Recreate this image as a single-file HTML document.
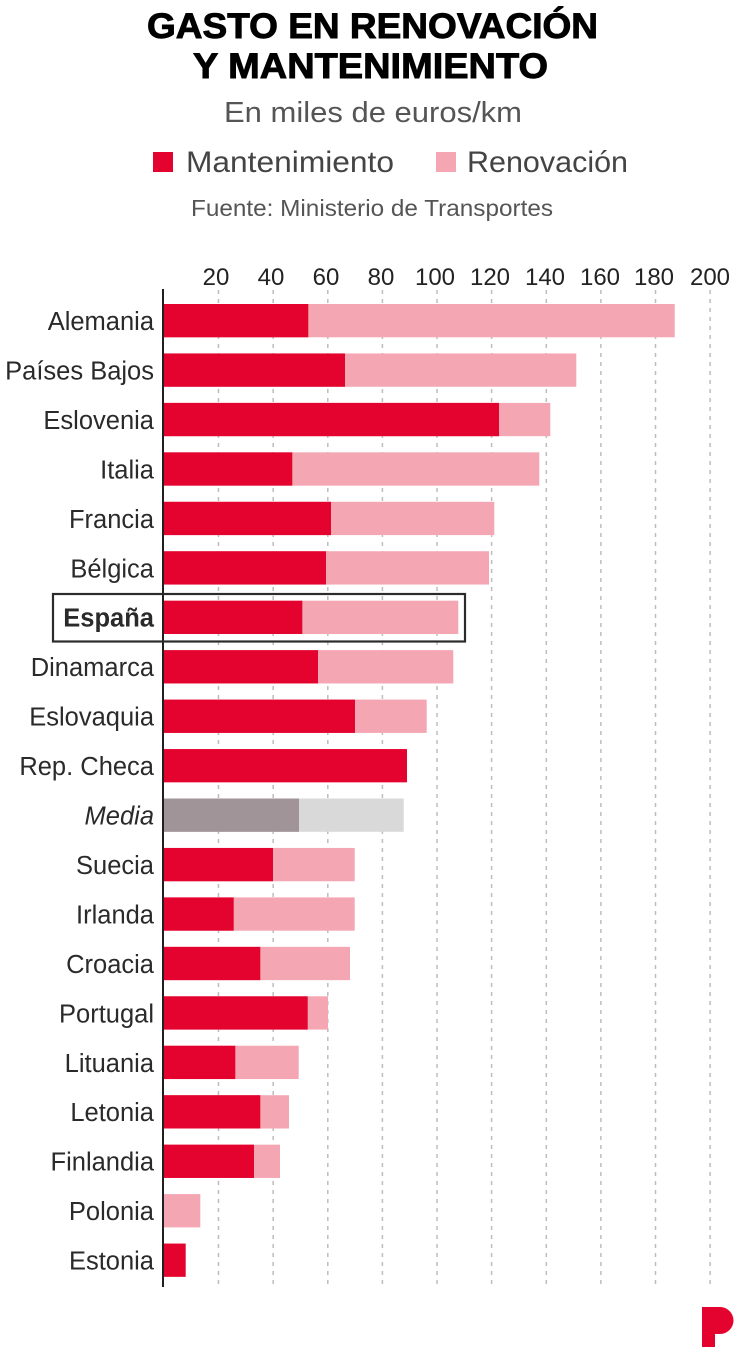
<!DOCTYPE html>
<html><head><meta charset="utf-8"><style>
html,body{margin:0;padding:0;background:#fff;}
svg{display:block;}
text{font-family:"Liberation Sans",sans-serif;}
</style></head><body>
<svg width="747" height="1353" viewBox="0 0 747 1353" xmlns="http://www.w3.org/2000/svg">
<rect width="747" height="1353" fill="#fff"/>
<!-- Title -->
<text x="147" y="38" font-size="35" font-weight="bold" fill="#000" stroke="#000" stroke-width="0.9" textLength="451" lengthAdjust="spacingAndGlyphs">GASTO EN RENOVACIÓN</text>
<text x="193" y="78" font-size="35" font-weight="bold" fill="#000" stroke="#000" stroke-width="0.9" textLength="355" lengthAdjust="spacingAndGlyphs">Y MANTENIMIENTO</text>
<text x="224" y="122" font-size="29" fill="#555" textLength="298" lengthAdjust="spacingAndGlyphs">En miles de euros/km</text>
<!-- Legend -->
<rect x="153" y="152" width="20" height="20" fill="#E4032E"/>
<text x="186" y="172" font-size="30" fill="#444" textLength="208" lengthAdjust="spacingAndGlyphs">Mantenimiento</text>
<rect x="436" y="152" width="20" height="20" fill="#F4A6B3"/>
<text x="467" y="172" font-size="30" fill="#444" textLength="161" lengthAdjust="spacingAndGlyphs">Renovación</text>
<text x="191" y="216" font-size="23" fill="#555" textLength="362" lengthAdjust="spacingAndGlyphs">Fuente: Ministerio de Transportes</text>

<!-- Tick labels -->
<g font-size="24" fill="#222" text-anchor="middle">
<text x="216" y="285">20</text>
<text x="271" y="285">40</text>
<text x="326" y="285">60</text>
<text x="381" y="285">80</text>
<text x="435" y="285">100</text>
<text x="490" y="285">120</text>
<text x="545" y="285">140</text>
<text x="600" y="285">160</text>
<text x="654" y="285">180</text>
<text x="710" y="285">200</text>
</g>

<!-- Grid lines -->
<g stroke="#bdbdbd" stroke-width="1.5" stroke-dasharray="4 5">
<line x1="218.5" y1="290" x2="218.5" y2="1287"/>
<line x1="273.2" y1="290" x2="273.2" y2="1287"/>
<line x1="327.8" y1="290" x2="327.8" y2="1287"/>
<line x1="382.4" y1="290" x2="382.4" y2="1287"/>
<line x1="437" y1="290" x2="437" y2="1287"/>
<line x1="491.6" y1="290" x2="491.6" y2="1287"/>
<line x1="546.3" y1="290" x2="546.3" y2="1287"/>
<line x1="600.9" y1="290" x2="600.9" y2="1287"/>
<line x1="655.5" y1="290" x2="655.5" y2="1287"/>
<line x1="710.1" y1="290" x2="710.1" y2="1287"/>
</g>

<!-- Bars -->
<g>
<!-- 0 Alemania -->
<rect x="164" y="304" width="510.7" height="33.3" fill="#F4A6B3"/>
<rect x="164" y="304" width="144.3" height="33.3" fill="#E4032E"/>
<!-- 1 Países Bajos -->
<rect x="164" y="353.45" width="412.3" height="33.3" fill="#F4A6B3"/>
<rect x="164" y="353.45" width="181" height="33.3" fill="#E4032E"/>
<!-- 2 Eslovenia -->
<rect x="164" y="402.9" width="386.3" height="33.3" fill="#F4A6B3"/>
<rect x="164" y="402.9" width="335" height="33.3" fill="#E4032E"/>
<!-- 3 Italia -->
<rect x="164" y="452.35" width="375.3" height="33.3" fill="#F4A6B3"/>
<rect x="164" y="452.35" width="128.3" height="33.3" fill="#E4032E"/>
<!-- 4 Francia -->
<rect x="164" y="501.8" width="330.3" height="33.3" fill="#F4A6B3"/>
<rect x="164" y="501.8" width="167" height="33.3" fill="#E4032E"/>
<!-- 5 Bélgica -->
<rect x="164" y="551.25" width="325" height="33.3" fill="#F4A6B3"/>
<rect x="164" y="551.25" width="162" height="33.3" fill="#E4032E"/>
<!-- 6 España -->
<rect x="164" y="600.7" width="294.3" height="33.3" fill="#F4A6B3"/>
<rect x="164" y="600.7" width="138.3" height="33.3" fill="#E4032E"/>
<!-- 7 Dinamarca -->
<rect x="164" y="650.15" width="289.3" height="33.3" fill="#F4A6B3"/>
<rect x="164" y="650.15" width="154" height="33.3" fill="#E4032E"/>
<!-- 8 Eslovaquia -->
<rect x="164" y="699.6" width="262.7" height="33.3" fill="#F4A6B3"/>
<rect x="164" y="699.6" width="191" height="33.3" fill="#E4032E"/>
<!-- 9 Rep. Checa -->
<rect x="164" y="749.05" width="243" height="33.3" fill="#E4032E"/>
<!-- 10 Media -->
<rect x="164" y="798.5" width="239.7" height="33.3" fill="#D9D9D9"/>
<rect x="164" y="798.5" width="135" height="33.3" fill="#A09498"/>
<!-- 11 Suecia -->
<rect x="164" y="847.95" width="190.7" height="33.3" fill="#F4A6B3"/>
<rect x="164" y="847.95" width="109" height="33.3" fill="#E4032E"/>
<!-- 12 Irlanda -->
<rect x="164" y="897.4" width="190.7" height="33.3" fill="#F4A6B3"/>
<rect x="164" y="897.4" width="69.7" height="33.3" fill="#E4032E"/>
<!-- 13 Croacia -->
<rect x="164" y="946.85" width="186" height="33.3" fill="#F4A6B3"/>
<rect x="164" y="946.85" width="96.3" height="33.3" fill="#E4032E"/>
<!-- 14 Portugal -->
<rect x="164" y="996.3" width="164" height="33.3" fill="#F4A6B3"/>
<rect x="164" y="996.3" width="143.7" height="33.3" fill="#E4032E"/>
<!-- 15 Lituania -->
<rect x="164" y="1045.75" width="134.7" height="33.3" fill="#F4A6B3"/>
<rect x="164" y="1045.75" width="71.3" height="33.3" fill="#E4032E"/>
<!-- 16 Letonia -->
<rect x="164" y="1095.2" width="125" height="33.3" fill="#F4A6B3"/>
<rect x="164" y="1095.2" width="96.3" height="33.3" fill="#E4032E"/>
<!-- 17 Finlandia -->
<rect x="164" y="1144.65" width="116" height="33.3" fill="#F4A6B3"/>
<rect x="164" y="1144.65" width="90" height="33.3" fill="#E4032E"/>
<!-- 18 Polonia -->
<rect x="164" y="1194.1" width="36.3" height="33.3" fill="#F4A6B3"/>
<!-- 19 Estonia -->
<rect x="164" y="1243.55" width="21.7" height="33.3" fill="#E4032E"/>
</g>

<!-- Axis line -->
<line x1="163" y1="289" x2="163" y2="1287" stroke="#231f20" stroke-width="2"/>

<!-- España box -->
<rect x="53" y="594" width="412" height="47.5" fill="none" stroke="#2b2b2b" stroke-width="2.2"/>

<!-- Country labels -->
<g font-size="25.5" fill="#2a2a2a" text-anchor="end">
<text x="154" y="330">Alemania</text>
<text x="154" y="379.5">Países Bajos</text>
<text x="154" y="429">Eslovenia</text>
<text x="154" y="478.4">Italia</text>
<text x="154" y="527.8">Francia</text>
<text x="154" y="577.3">Bélgica</text>
<text x="154" y="626.7" font-weight="bold">España</text>
<text x="154" y="676.2">Dinamarca</text>
<text x="154" y="725.6">Eslovaquia</text>
<text x="154" y="775.1">Rep. Checa</text>
<text x="154" y="824.5" font-style="italic">Media</text>
<text x="154" y="874">Suecia</text>
<text x="154" y="923.4">Irlanda</text>
<text x="154" y="972.9">Croacia</text>
<text x="154" y="1022.3">Portugal</text>
<text x="154" y="1071.8">Lituania</text>
<text x="154" y="1121.2">Letonia</text>
<text x="154" y="1170.7">Finlandia</text>
<text x="154" y="1220.1">Polonia</text>
<text x="154" y="1269.6">Estonia</text>
</g>

<!-- Logo -->
<path d="M702,1307 H720 A13.5,13.5 0 0 1 720,1334 H715 V1347 H702 Z" fill="#E4032E"/>
</svg>
</body></html>
